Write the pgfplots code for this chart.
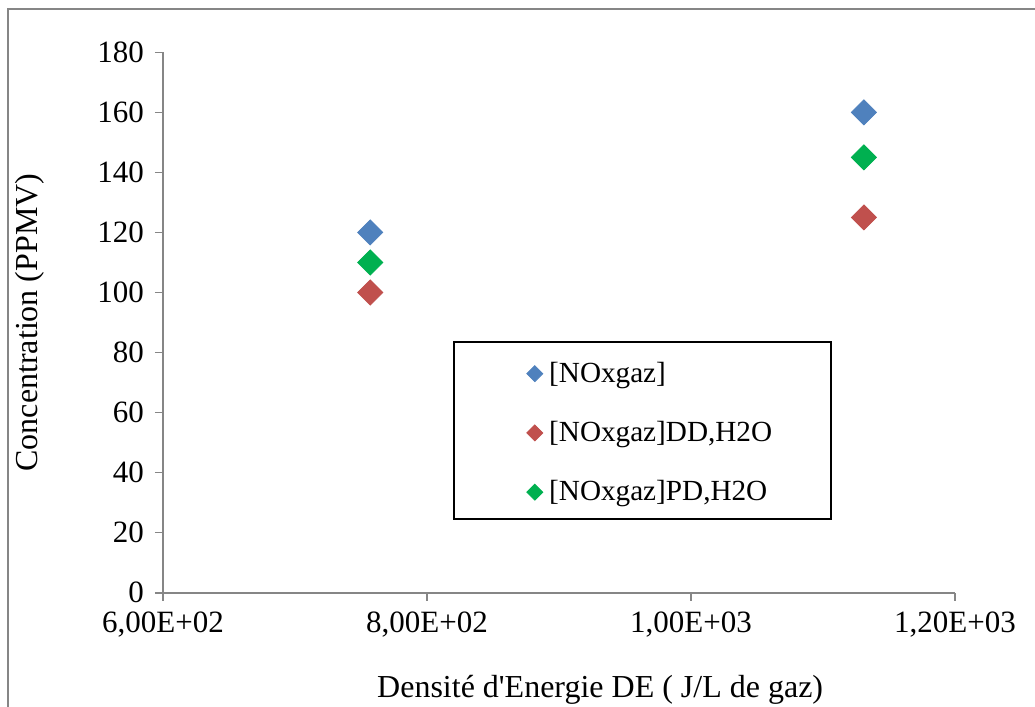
\documentclass[border=0pt]{standalone}
\usepackage{pgfplots}
\pgfplotsset{compat=1.18}
\usepackage{fontspec}
\setmainfont{Liberation Serif}[Ligatures=TeXOff]
\definecolor{sblue}{HTML}{4F81BD}
\definecolor{sred}{HTML}{C0504D}
\definecolor{sgreen}{HTML}{00B050}
\definecolor{axgray}{HTML}{868686}
\begin{document}
\begin{tikzpicture}
\begin{axis}[
  scale only axis,
  width=396pt, height=270.2pt,
  at={(0,0)}, anchor=south west,
  xmin=600, xmax=1200, ymin=0, ymax=180,
  axis x line=bottom, axis y line=left,
  axis line style={-, axgray, line width=0.8pt},
  tick style={axgray, line width=0.8pt},
  tick align=outside, major tick length=4pt,
  xtick={600,800,1000,1200},
  xticklabels={{6,00E+02},{8,00E+02},{1,00E+03},{1,20E+03}},
  ytick={0,20,...,180},
  /pgf/number format/assume math mode=true,
  ticklabel style={font=\fontsize{15.5}{18}\selectfont, text=black},
  yticklabel style={xshift=-2pt},
  xticklabel style={yshift=-2pt},
  every axis y label/.style={at={(axis description cs:-0.168,0.5)}, rotate=90, anchor=center, font=\fontsize{16}{19}\selectfont},
  every axis x label/.style={at={(axis description cs:0.552,-0.18)}, anchor=center, font=\fontsize{16}{19}\selectfont},
  xlabel={Densité d'Energie DE ( J/L de gaz)},
  ylabel={Concentration (PPMV)},
  legend style={draw=none, fill=none, at={(axis cs:875.3,78.3)}, anchor=north west,
    font=\fontsize{14.6}{17}\selectfont, row sep=14pt, inner sep=0pt,
    nodes={inner sep=2pt}},
  legend cell align=left,
  legend image code/.code={\draw[#1, mark size=2.83pt] plot coordinates {(0.15cm,0cm)}; \path (0.15cm,0cm) ++(5pt,0pt);},
]
\addplot[only marks, mark=square*, mark size=4.42pt, mark options={rotate=45, fill=sblue, draw=sblue}, color=sblue]
  coordinates {(757,120) (1131,160)};
\addlegendentry{[NOxgaz]}
\addplot[only marks, mark=square*, mark size=4.42pt, mark options={rotate=45, fill=sred, draw=sred}, color=sred]
  coordinates {(757,100) (1131,125)};
\addlegendentry{[NOxgaz]DD,H2O}
\addplot[only marks, mark=square*, mark size=4.42pt, mark options={rotate=45, fill=sgreen, draw=sgreen}, color=sgreen]
  coordinates {(757,110) (1131,145)};
\addlegendentry{[NOxgaz]PD,H2O}
\draw[black, line width=0.8pt] (axis cs:820.5,83.57) rectangle (axis cs:1106,24.57);
\end{axis}
\draw[axgray, line width=0.8pt] (436pt,291.85pt) -- (-77.5pt,291.85pt) -- (-77.5pt,-57.15pt);
\pgfresetboundingbox
\useasboundingbox (-81.5pt,-57.15pt) rectangle (436pt,296.35pt);
\end{tikzpicture}
\end{document}
